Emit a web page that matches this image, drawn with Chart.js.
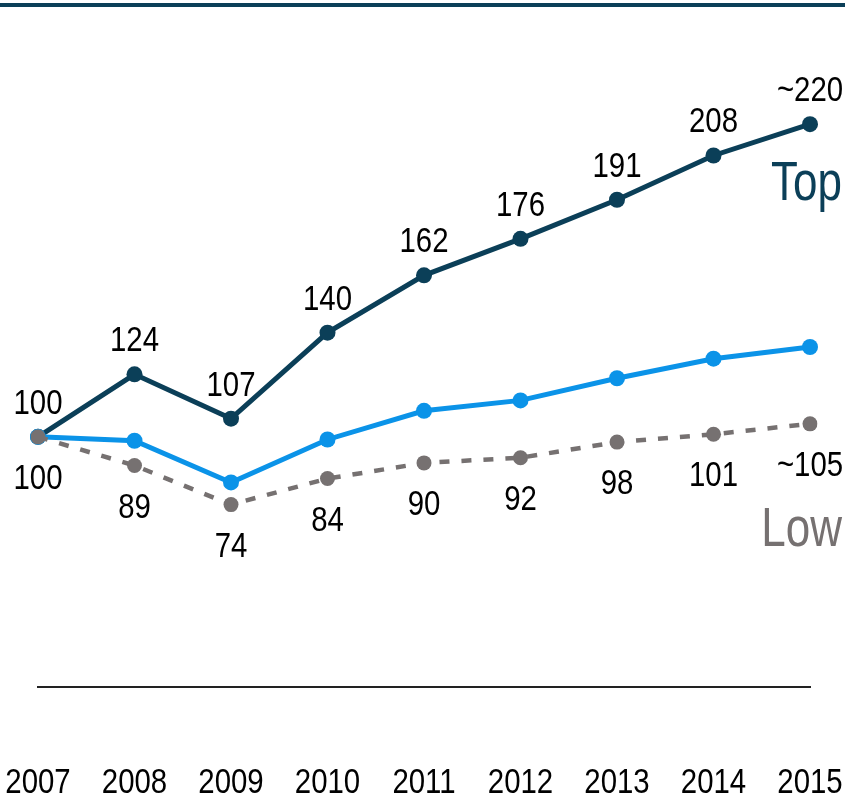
<!DOCTYPE html>
<html>
<head>
<meta charset="utf-8">
<script src="https://cdn.jsdelivr.net/npm/chart.js@4.4.0/dist/chart.umd.min.js"></script>
<style>
  html, body { margin: 0; padding: 0; background: #fff; overflow: hidden; }
  #wrap { position: relative; width: 845px; height: 795px; }
</style>
</head>
<body>
<div id="wrap"><canvas id="chart"></canvas></div>
<script>
// --- datos ---
const years = ['2007', '2008', '2009', '2010', '2011', '2012', '2013', '2014', '2015'];
const topValues = [100, 124, 107, 140, 162, 176, 191, 208, 220];
const midValues = [100, 98.5, 82.5, 99, 110, 114, 122.5, 130, 134.5];
const lowValues = [100, 89, 74, 84, 90, 92, 98, 101, 105];
const topLabels = ['100', '124', '107', '140', '162', '176', '191', '208', '~220'];
const lowLabels = ['100', '89', '74', '84', '90', '92', '98', '101', '~105'];

const FONT = "'Liberation Sans', Arial, sans-serif";
const NAVY = '#0b3f58';
const BLUE = '#0b93e8';
const GRAY = '#767171';

// texto estrechado (no hay Arial Narrow instalada)
function textoEstrecho(ctx, txt, x, y, escala) {
    ctx.save();
    ctx.translate(x, y);
    ctx.scale(escala, 1);
    ctx.fillText(txt, 0, 0);
    ctx.restore();
}

// dibuja la raya de arriba, los años, las cifras y los nombres de serie
const etiquetas = {
    id: 'etiquetas',
    beforeDraw(chart) {
        const ctx = chart.ctx;
        ctx.save();
        ctx.fillStyle = NAVY;
        ctx.fillRect(0, 3, chart.width, 4);
        ctx.restore();
    },
    afterDatasetsDraw(chart) {
        const ctx = chart.ctx;
        const xScale = chart.scales.x;
        ctx.save();
        ctx.font = '35px ' + FONT;
        ctx.fillStyle = '#000';
        ctx.textAlign = 'center';
        ctx.textBaseline = 'alphabetic';

        // años del eje
        years.forEach((y, i) => {
            textoEstrecho(ctx, y, xScale.getPixelForValue(i), 793, 0.84);
        });

        const topMeta = chart.getDatasetMeta(2);
        topMeta.data.forEach((p, i) => {
            textoEstrecho(ctx, topLabels[i], p.x, p.y - 23, 0.84);
        });
        const lowMeta = chart.getDatasetMeta(0);
        lowMeta.data.forEach((p, i) => {
            textoEstrecho(ctx, lowLabels[i], p.x, p.y + 52, 0.84);
        });

        // nombres de serie
        ctx.font = '55px ' + FONT;
        ctx.textAlign = 'right';
        const lastTop = topMeta.data[topMeta.data.length - 1];
        const lastLow = lowMeta.data[lowMeta.data.length - 1];
        ctx.fillStyle = NAVY;
        textoEstrecho(ctx, 'Top', 842, lastTop.y + 76, 0.8);
        ctx.fillStyle = GRAY;
        textoEstrecho(ctx, 'Low', 842, lastLow.y + 122, 0.8);
        ctx.restore();
    }
};

new Chart(document.getElementById('chart'), {
    type: 'line',
    data: {
        labels: years,
        datasets: [
            {
                label: 'Low',
                data: lowValues,
                borderColor: GRAY,
                backgroundColor: GRAY,
                borderWidth: 4.5,
                borderDash: [10, 12],
                pointRadius: 7.5,
                pointBorderWidth: 0,
                order: 0
            },
            {
                label: 'Mid',
                data: midValues,
                borderColor: BLUE,
                backgroundColor: BLUE,
                borderWidth: 5,
                pointRadius: 8,
                pointBorderWidth: 0,
                order: 1
            },
            {
                label: 'Top',
                data: topValues,
                borderColor: NAVY,
                backgroundColor: NAVY,
                borderWidth: 5,
                pointRadius: 8,
                pointBorderWidth: 0,
                order: 2
            }
        ]
    },
    options: {
        responsive: true,
        maintainAspectRatio: false,
        animation: false,
        layout: {
            padding: { left: 38, right: 35, top: 0, bottom: 0 }
        },
        plugins: {
            legend: { display: false },
            tooltip: { enabled: false }
        },
        scales: {
            x: {
                offset: false,
                grid: { display: false, drawTicks: true, tickLength: 108 },
                border: { display: true, color: '#222', width: 2 },
                ticks: { display: false }
            },
            y: {
                display: false,
                min: 4,
                max: 264.6
            }
        }
    },
    plugins: [etiquetas]
});
</script>
</body>
</html>
